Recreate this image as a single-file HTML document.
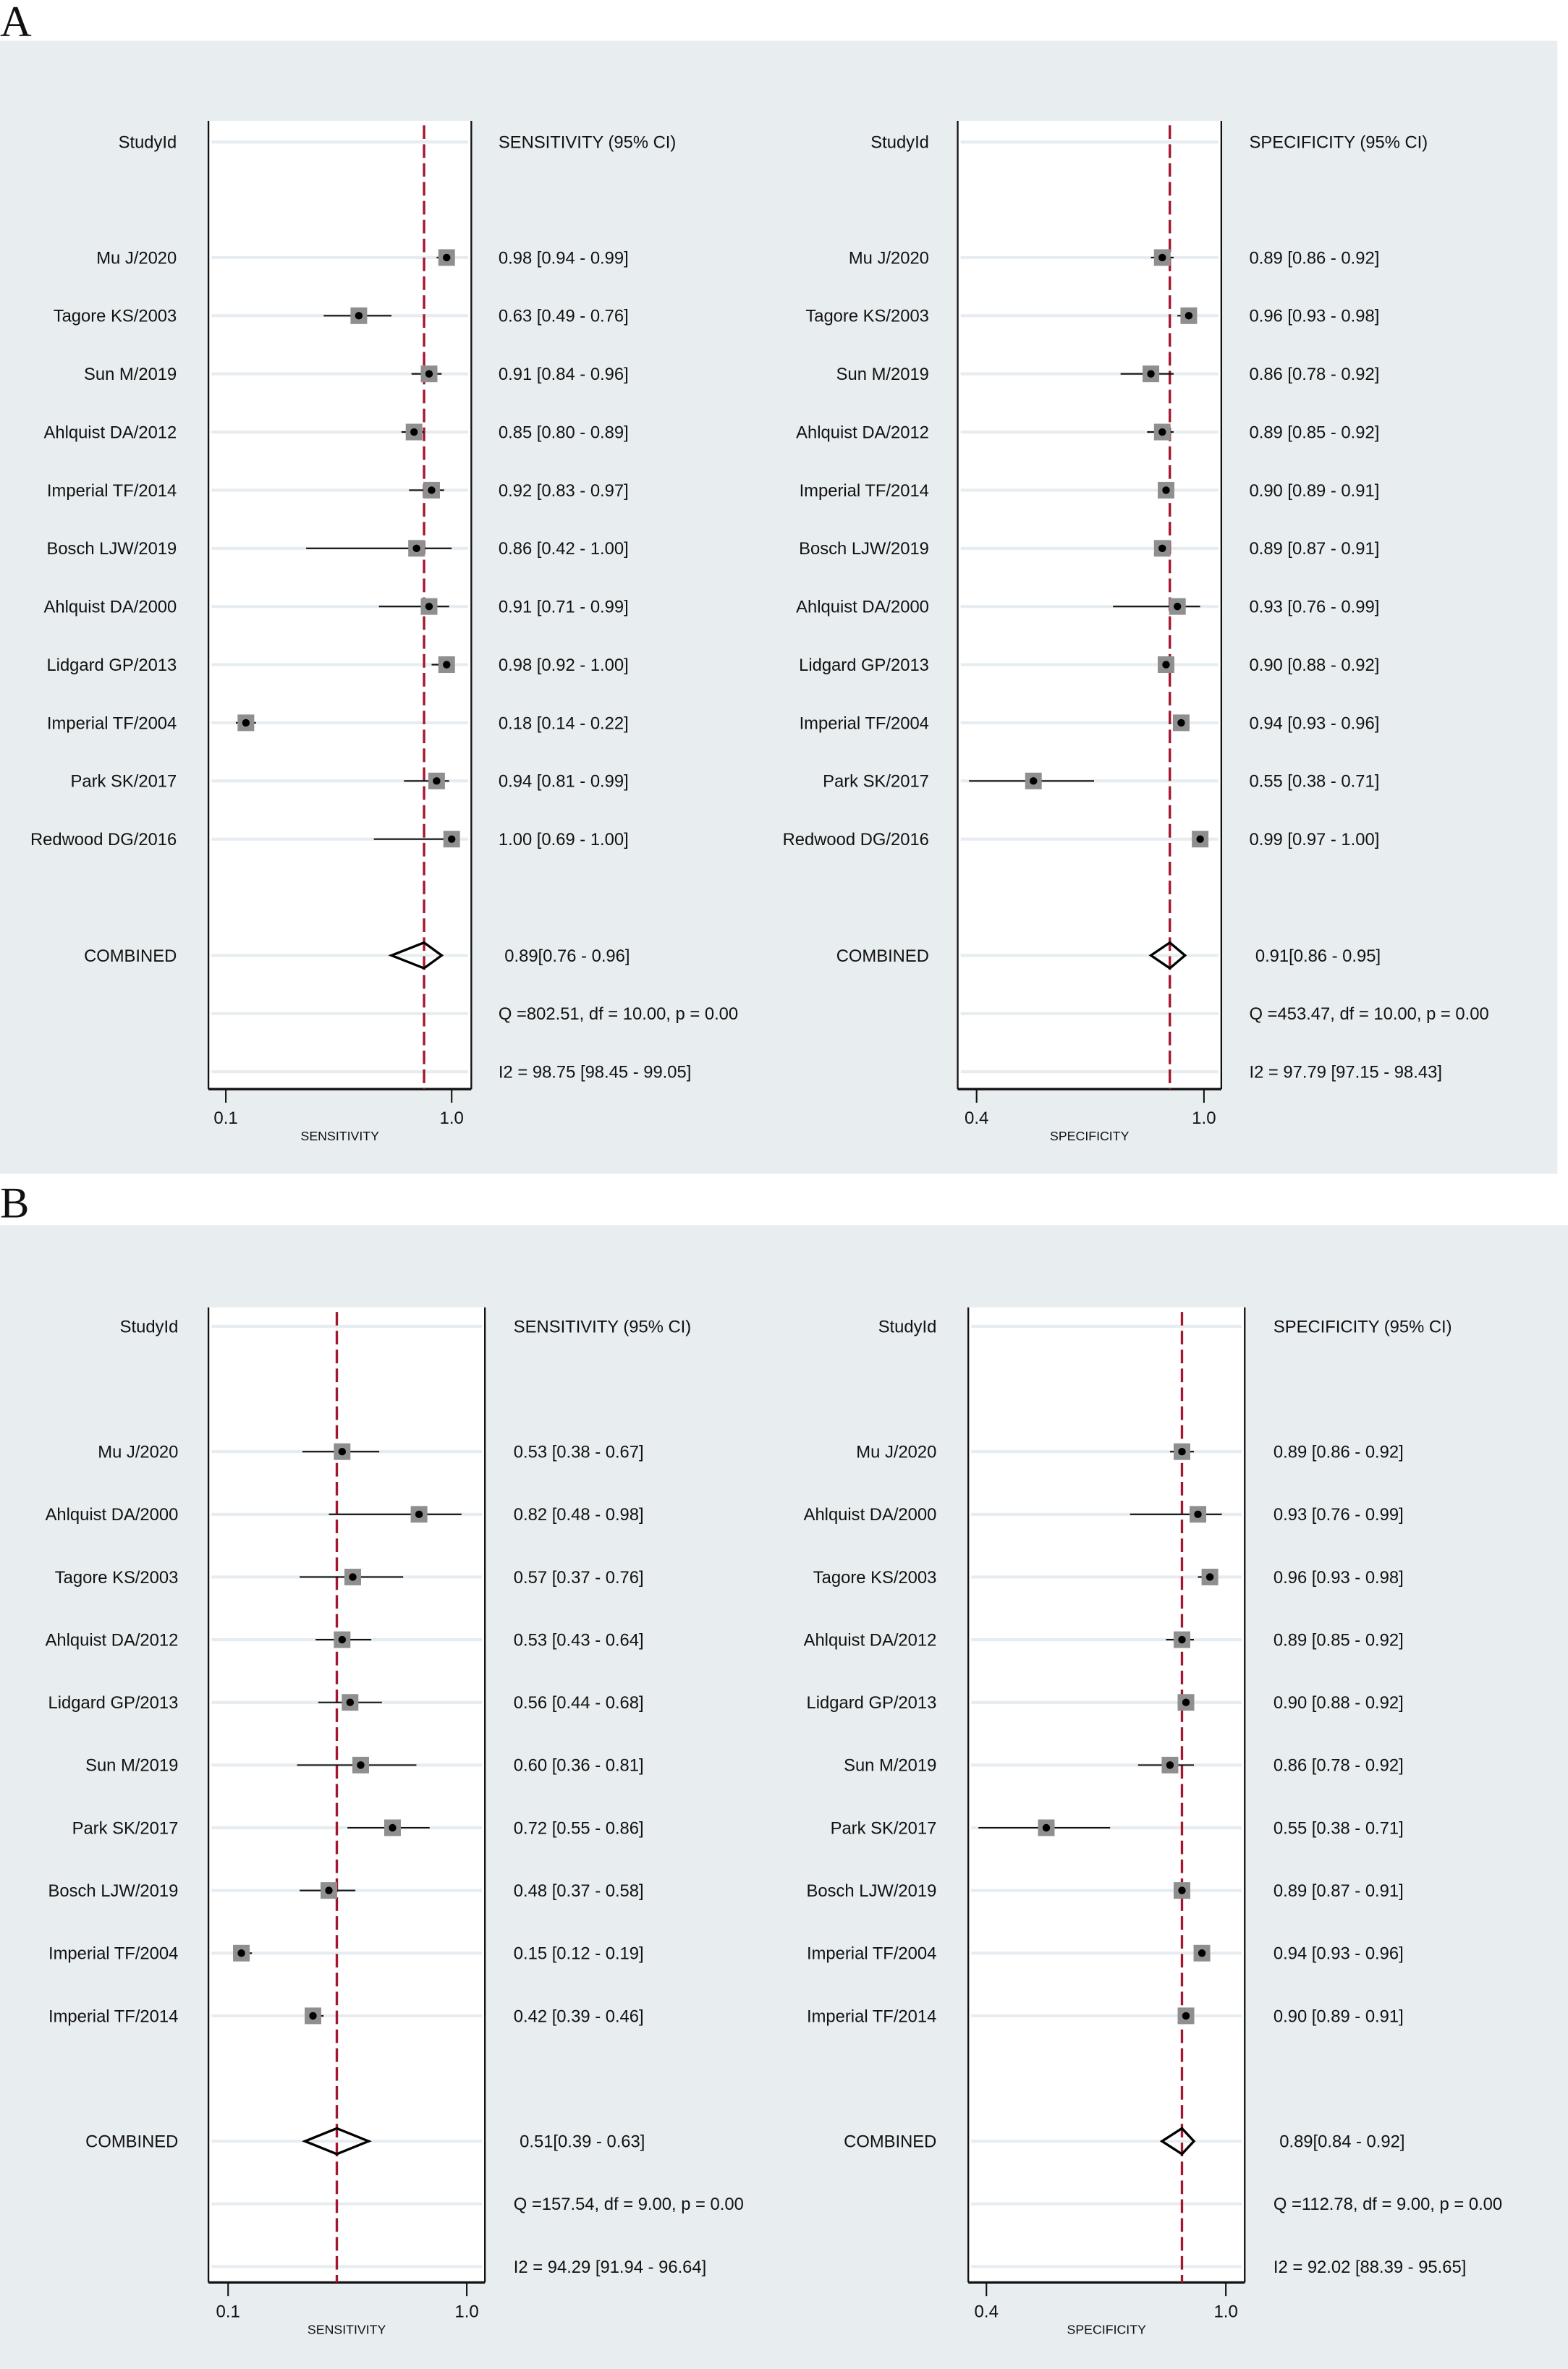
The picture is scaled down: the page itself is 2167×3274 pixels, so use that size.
<!DOCTYPE html>
<html><head><meta charset="utf-8"><style>
html,body{margin:0;padding:0;background:#fff;}
svg{display:block;}
text{font-family:"Liberation Sans",sans-serif;fill:#111;}
</style></head><body>
<svg id="fig" width="2167" height="3274" viewBox="0 0 1038 1568.3" preserveAspectRatio="none" xmlns="http://www.w3.org/2000/svg">
<rect x="0" y="0" width="1038" height="1568.3" fill="#fff"/>
<text x="0" y="24" style="font-family:'Liberation Serif',serif;font-size:29px">A</text>
<rect x="0" y="27" width="1031" height="750" fill="#e8edf0"/>
<text x="0" y="806" style="font-family:'Liberation Serif',serif;font-size:29px">B</text>
<rect x="0" y="811" width="1038" height="757.3" fill="#e8edf0"/>
<g id="plots"></g>
</svg>
<script>
const aSensStudies = ["Mu J/2020","Tagore KS/2003","Sun M/2019","Ahlquist DA/2012","Imperial TF/2014","Bosch LJW/2019","Ahlquist DA/2000","Lidgard GP/2013","Imperial TF/2004","Park SK/2017","Redwood DG/2016"];
const aSensEst = [0.98,0.63,0.91,0.85,0.92,0.86,0.91,0.98,0.18,0.94,1.00];
const aSensLo  = [0.94,0.49,0.84,0.80,0.83,0.42,0.71,0.92,0.14,0.81,0.69];
const aSensHi  = [0.99,0.76,0.96,0.89,0.97,1.00,0.99,1.00,0.22,0.99,1.00];
const aSensPooled = [0.89,0.76,0.96];
const aSensStats = ["Q =802.51, df = 10.00, p =  0.00","I2 = 98.75 [98.45 - 99.05]"];

const aSpecStudies = aSensStudies;
const aSpecEst = [0.89,0.96,0.86,0.89,0.90,0.89,0.93,0.90,0.94,0.55,0.99];
const aSpecLo  = [0.86,0.93,0.78,0.85,0.89,0.87,0.76,0.88,0.93,0.38,0.97];
const aSpecHi  = [0.92,0.98,0.92,0.92,0.91,0.91,0.99,0.92,0.96,0.71,1.00];
const aSpecPooled = [0.91,0.86,0.95];
const aSpecStats = ["Q =453.47, df = 10.00, p =  0.00","I2 = 97.79 [97.15 - 98.43]"];

const bSensStudies = ["Mu J/2020","Ahlquist DA/2000","Tagore KS/2003","Ahlquist DA/2012","Lidgard GP/2013","Sun M/2019","Park SK/2017","Bosch LJW/2019","Imperial TF/2004","Imperial TF/2014"];
const bSensEst = [0.53,0.82,0.57,0.53,0.56,0.60,0.72,0.48,0.15,0.42];
const bSensLo  = [0.38,0.48,0.37,0.43,0.44,0.36,0.55,0.37,0.12,0.39];
const bSensHi  = [0.67,0.98,0.76,0.64,0.68,0.81,0.86,0.58,0.19,0.46];
const bSensPooled = [0.51,0.39,0.63];
const bSensStats = ["Q =157.54, df = 9.00, p =  0.00","I2 = 94.29 [91.94 - 96.64]"];

const bSpecStudies = bSensStudies;
const bSpecEst = [0.89,0.93,0.96,0.89,0.90,0.86,0.55,0.89,0.94,0.90];
const bSpecLo  = [0.86,0.76,0.93,0.85,0.88,0.78,0.38,0.87,0.93,0.89];
const bSpecHi  = [0.92,0.99,0.98,0.92,0.92,0.92,0.71,0.91,0.96,0.91];
const bSpecPooled = [0.89,0.84,0.92];
const bSpecStats = ["Q =112.78, df = 9.00, p =  0.00","I2 = 92.02 [88.39 - 95.65]"];

const sensTicks = [0.1,1.0];
const specTicks = [0.4,1.0];
const sensTickLabels = ["0.1","1.0"];
const specTickLabels = ["0.4","1.0"];

const FS=11.4;
const NS="http://www.w3.org/2000/svg";
const root=document.getElementById('plots');
function mk(tag,attrs,parent){const e=document.createElementNS(NS,tag);for(const k in attrs)e.setAttribute(k,attrs[k]);(parent||root).appendChild(e);return e;}
function txt(x,y,s,size,anchor,parent,fill){const t=mk('text',{x:x,y:y,'font-size':size,'text-anchor':anchor||'start'},parent);if(fill)t.setAttribute('fill',fill);t.textContent=s;return t;}
function f2(v){return v.toFixed(2);}

function panel(o){
  const g=mk('g',{});
  
  
  const x=v=>o.px0+(v-o.t0)*(o.px1-o.px0)/(o.t1-o.t0);
  const box=mk('rect',{x:o.bx0,y:o.top,width:o.bx1-o.bx0,height:o.bottom-o.top,fill:'#fff'},g);
  
  
  const rows=[o.head];
  for(let i=0;i<o.studies.length;i++)rows.push(o.first+i*o.step);
  const yc=o.first+(o.studies.length-1)*o.step+2*o.step, yq=yc+o.step, yi=yq+o.step;
  rows.push(yc,yq,yi);
  rows.forEach(y=>{const l=mk('line',{x1:o.bx0+2,x2:o.bx1-2,y1:y,y2:y,stroke:'#e6ecf0','stroke-width':2},g);
    
    });
  const fl=mk('line',{x1:o.bx0,x2:o.bx0,y1:o.top,y2:o.bottom,stroke:'#111','stroke-width':1.1},g);
  
  
  const fr=mk('line',{x1:o.bx1,x2:o.bx1,y1:o.top,y2:o.bottom,stroke:'#111','stroke-width':1.1},g);
  
  
  const ax=mk('line',{x1:o.bx0,x2:o.bx1,y1:o.bottom,y2:o.bottom,stroke:'#111','stroke-width':1.6},g);
  
  
  o.ticks.forEach((t,i)=>{
    const tl=mk('line',{x1:x(t),x2:x(t),y1:o.bottom,y2:o.bottom+9,stroke:'#111','stroke-width':1},g);
    
    
    const tt=txt(x(t),o.bottom+23,o.tickLabels[i],11.5,'middle',g);
    
    
  });
  const at=txt((o.bx0+o.bx1)/2,o.bottom+34,o.axisTitle,8.5,'middle',g,'#444');
  
  
  const pl=mk('line',{x1:x(o.pooled[0]),x2:x(o.pooled[0]),y1:o.top+3,y2:o.bottom,stroke:'#a3162e','stroke-width':1.6,'stroke-dasharray':'9 3.5'},g);
  
  
  const h1=txt(o.labX,o.head+4,'StudyId',FS,'end',g);
  
  
  const h2=txt(o.valX,o.head+4,o.valHead,FS,'start',g);
  
  
  o.studies.forEach((s,i)=>{
    const y=o.first+i*o.step;
    const sl=txt(o.labX,y+4,s,FS,'end',g);
    
    
    const ci=mk('line',{x1:x(o.lo[i]),x2:x(o.hi[i]),y1:y,y2:y,stroke:'#111','stroke-width':1},g);
    
    
    const sq=mk('rect',{x:x(o.est[i])-5.5,y:y-5.5,width:11,height:11,fill:'#8f8f8f'},g);
    
    
    const d=mk('circle',{cx:x(o.est[i]),cy:y,r:2.5,fill:'#000'},g);
    
    
    const v=txt(o.valX,y+4,f2(o.est[i])+' ['+f2(o.lo[i])+' - '+f2(o.hi[i])+']',FS,'start',g);
    
    
  });
  const cl=txt(o.labX,yc+4,'COMBINED',FS,'end',g);
  
  
  const p=o.pooled,h=8.5;
  const dm=mk('polygon',{points:`${x(p[1])},${yc} ${x(p[0])},${yc-h} ${x(p[2])},${yc} ${x(p[0])},${yc+h}`,fill:'none',stroke:'#000','stroke-width':1.6},g);
  
  
  const cv=txt(o.valX+4,yc+4,f2(p[0])+'['+f2(p[1])+' - '+f2(p[2])+']',FS,'start',g);
  
  
  const q=txt(o.valX,yq+4,o.stats[0],FS,'start',g);
  
  
  const i2=txt(o.valX,yi+4,o.stats[1],FS,'start',g);
  
  
}

panel({name:'panel-a-sensitivity',bx0:138,bx1:312,top:80,bottom:721,px0:149.5,px1:299,t0:sensTicks[0],t1:sensTicks[1],ticks:sensTicks,tickLabels:sensTickLabels,axisTitle:'SENSITIVITY',
  head:94,first:170.5,step:38.5,labX:117,valX:330,valHead:'SENSITIVITY (95% CI)',studies:aSensStudies,est:aSensEst,lo:aSensLo,hi:aSensHi,pooled:aSensPooled,stats:aSensStats});
panel({name:'panel-a-specificity',bx0:634,bx1:808.5,top:80,bottom:721,px0:646.5,px1:797,t0:specTicks[0],t1:specTicks[1],ticks:specTicks,tickLabels:specTickLabels,axisTitle:'SPECIFICITY',
  head:94,first:170.5,step:38.5,labX:615,valX:827,valHead:'SPECIFICITY (95% CI)',studies:aSpecStudies,est:aSpecEst,lo:aSpecLo,hi:aSpecHi,pooled:aSpecPooled,stats:aSpecStats});
panel({name:'panel-b-sensitivity',bx0:138,bx1:321,top:865.5,bottom:1511,px0:151,px1:309,t0:sensTicks[0],t1:sensTicks[1],ticks:sensTicks,tickLabels:sensTickLabels,axisTitle:'SENSITIVITY',
  head:878,first:961,step:41.5,labX:118,valX:340,valHead:'SENSITIVITY (95% CI)',studies:bSensStudies,est:bSensEst,lo:bSensLo,hi:bSensHi,pooled:bSensPooled,stats:bSensStats});
panel({name:'panel-b-specificity',bx0:641,bx1:824,top:865.5,bottom:1511,px0:653,px1:811.5,t0:specTicks[0],t1:specTicks[1],ticks:specTicks,tickLabels:specTickLabels,axisTitle:'SPECIFICITY',
  head:878,first:961,step:41.5,labX:620,valX:843,valHead:'SPECIFICITY (95% CI)',studies:bSpecStudies,est:bSpecEst,lo:bSpecLo,hi:bSpecHi,pooled:bSpecPooled,stats:bSpecStats});
</script>
</body></html>
